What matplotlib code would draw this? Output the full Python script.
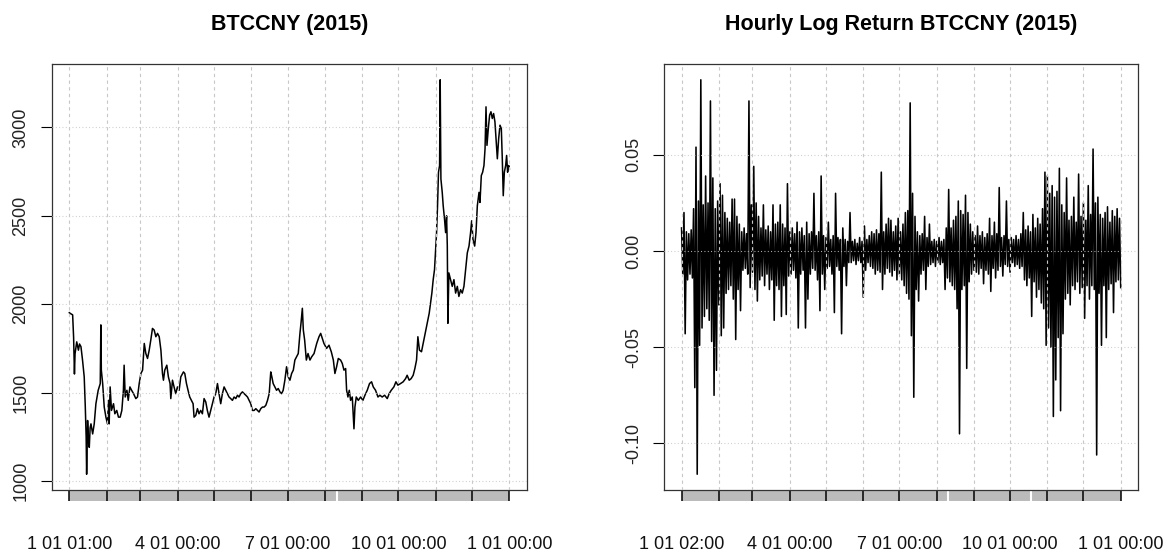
import numpy as np
import matplotlib
matplotlib.use("Agg")
import matplotlib.pyplot as plt
from matplotlib.transforms import blended_transform_factory

plt.rcParams["font.family"] = ["Liberation Sans", "DejaVu Sans"]

# time axis in days since 2015-01-01 00:00
month_starts = [0, 31, 59, 90, 120, 151, 181, 212, 243, 273, 304, 334, 365]
price_labels = ["1 01 01:00", "4 01 00:00", "7 01 00:00", "10 01 00:00", "1 01 00:00"]
return_labels = ["1 01 02:00", "4 01 00:00", "7 01 00:00", "10 01 00:00", "1 01 00:00"]
label_months = [90, 181, 273, 365]

# BTCCNY price path
price_day = [
    0.04, 1.5, 2.8, 3.6, 4.3, 4.8, 6.2, 7.6, 8.5, 9.7, 11.0, 12.4, 13.3, 14.0, 14.4,
    15.2, 16.0, 16.6, 17.3, 18.0, 19.4, 20.7, 22.1, 24.0, 25.7, 26.2, 26.6, 27.7, 29.0,
    30.4, 31.7, 32.5, 33.1, 33.9, 35.0, 36.7, 37.8, 39.4, 40.8, 42.2, 43.6, 44.9, 45.5,
    46.4, 47.8, 48.9, 50.3, 51.7, 53.3, 55.2, 56.6, 58.0, 59.4, 60.8, 62.2, 63.5, 64.9,
    66.3, 67.6, 69.0, 70.4, 71.8, 73.2, 74.6, 76.0, 77.3, 78.1, 79.2, 80.9, 82.2, 83.6,
    84.2, 85.6, 86.9, 88.3, 89.7, 91.1, 92.5, 94.7, 95.8, 97.2, 98.5, 99.9, 101.3, 102.7,
    103.5, 104.9, 106.3, 107.6, 109.0, 110.4, 111.8, 113.2, 114.5, 115.9, 117.3, 118.7,
    120.1, 121.5, 122.9, 124.2, 125.6, 127.0, 128.4, 129.8, 131.2, 132.5, 133.9, 135.3,
    136.7, 138.1, 139.5, 140.8, 142.2, 143.6, 145.0, 146.4, 147.8, 149.2, 150.5, 151.9,
    153.3, 154.7, 156.1, 157.4, 158.8, 160.2, 161.6, 163.0, 164.4, 165.8, 167.1, 168.0,
    169.1, 170.5, 171.9, 173.3, 174.7, 176.1, 177.4, 178.8, 180.2, 181.6, 183.0, 184.4,
    185.8, 187.1, 188.5, 189.9, 191.3, 192.3, 193.3, 194.1, 195.2, 196.6, 198.0, 199.6,
    201.0, 203.0, 205.2, 207.1, 208.5, 209.9, 211.2, 213.4, 215.4, 217.3, 219.0, 220.3,
    221.7, 223.1, 225.0, 226.4, 227.8, 229.2, 230.0, 231.1, 232.2, 233.3, 234.7, 236.1,
    236.9, 238.0, 239.7, 241.6, 243.5, 245.2, 247.1, 249.0, 250.7, 252.1, 254.0, 256.0,
    257.6, 259.5, 261.5, 263.7, 265.3, 267.0, 269.2, 270.9, 272.5, 274.7, 276.9, 278.9,
    280.2, 281.9, 283.5, 285.2, 286.6, 288.0, 289.1, 290.4, 292.1, 293.5, 295.2, 296.3,
    297.4, 298.5, 299.6, 300.7, 301.8, 302.9, 303.7, 304.6, 305.4, 306.2, 307.1, 307.6,
    308.2, 309.3, 310.1, 311.2, 312.1, 312.9, 313.5, 314.0, 314.8, 316.2, 317.6, 319.0,
    320.4, 321.8, 323.1, 324.5, 325.9, 327.3, 328.7, 330.1, 331.5, 332.8, 333.7, 334.8,
    336.2, 337.3, 338.4, 339.8, 340.6, 341.7, 342.8, 343.9, 344.8, 345.6, 346.4, 347.5,
    348.6, 349.7, 350.8, 351.9, 353.0, 354.1, 355.0, 356.1, 357.2, 358.3, 359.1, 359.9,
    360.8, 361.9, 362.7, 363.5, 364.4, 365.0,
]
price_cny = [
    1952, 1945, 1940, 1813, 1605, 1720, 1787, 1740, 1775, 1760, 1684, 1589, 1418, 1250, 1038,
    1342, 1220, 1190, 1300, 1323, 1266, 1323, 1437, 1513, 1551, 1883, 1627, 1551, 1418,
    1361, 1323, 1456, 1323, 1532, 1399, 1437, 1380, 1399, 1361, 1361, 1399, 1513, 1655,
    1475, 1513, 1456, 1532, 1513, 1494, 1466, 1475, 1551, 1608, 1627, 1778, 1721, 1693,
    1740, 1797, 1863, 1854, 1816, 1835, 1816, 1740, 1608, 1570, 1627, 1655, 1589, 1551,
    1466, 1570, 1532, 1494, 1532, 1513, 1589, 1617, 1608, 1551, 1513, 1475, 1456, 1437,
    1361, 1371, 1409, 1380, 1399, 1380, 1466, 1447, 1399, 1361, 1399, 1437,
    1475, 1494, 1551, 1494, 1437, 1494, 1532, 1513, 1494, 1475, 1466, 1456,
    1475, 1466, 1485, 1475, 1494, 1504, 1494, 1485, 1475, 1456, 1437, 1399,
    1399, 1409, 1399, 1390, 1409, 1418, 1418, 1428, 1456, 1494, 1617, 1589,
    1551, 1532, 1513, 1523, 1504, 1494, 1513, 1570, 1646, 1589, 1570, 1608,
    1627, 1684, 1702, 1721, 1835, 1901, 1977, 1854, 1797, 1684, 1721, 1684,
    1702, 1721, 1778, 1816, 1835, 1806, 1778, 1750, 1768, 1731, 1684, 1608,
    1646, 1693, 1684, 1665, 1627, 1636, 1513, 1475, 1513, 1456, 1475, 1295,
    1418, 1475, 1456, 1475, 1456, 1485, 1513, 1551, 1561, 1532, 1513, 1475,
    1485, 1475, 1485, 1466, 1494, 1513, 1532, 1561, 1542, 1551, 1561, 1579,
    1598, 1570, 1579, 1598, 1636, 1684, 1816, 1740, 1731, 1778, 1835, 1873,
    1911, 1949, 2006, 2063, 2139, 2196, 2291, 2405, 2557, 2747, 2785, 3270,
    2709, 2633, 2557, 2481, 2405, 2500, 2329, 1892, 2177, 2139, 2101, 2139,
    2063, 2101, 2044, 2082, 2063, 2101, 2196, 2291, 2329, 2405, 2472, 2367,
    2329, 2405, 2557, 2633, 2576, 2728, 2747, 2785, 2880, 3117, 2899, 2994,
    3070, 3089, 3051, 3079, 3032, 2918, 2823, 2937, 3013, 2994, 2823, 2614,
    2747, 2785, 2842, 2747, 2785, 2766,
]

# hourly log return: highest and lowest value in each 2-day window
ret_high = [
    0.012, 0.020, 0.010, 0.009, 0.011, 0.022, 0.054, 0.026, 0.089, 0.024,
    0.039, 0.025, 0.078, 0.038, 0.022, 0.026, 0.035, 0.029, 0.020, 0.017,
    0.015, 0.027, 0.027, 0.018, 0.014, 0.010, 0.012, 0.009, 0.078, 0.024,
    0.044, 0.025, 0.018, 0.012, 0.024, 0.011, 0.013, 0.010, 0.024, 0.014,
    0.015, 0.024, 0.014, 0.012, 0.035, 0.010, 0.012, 0.009, 0.015, 0.010,
    0.012, 0.008, 0.015, 0.009, 0.010, 0.030, 0.008, 0.010, 0.039, 0.008,
    0.007, 0.015, 0.006, 0.008, 0.030, 0.007, 0.006, 0.012, 0.006, 0.005,
    0.020, 0.005, 0.006, 0.004, 0.007, 0.005, 0.013, 0.006, 0.008, 0.010,
    0.009, 0.011, 0.009, 0.041, 0.010, 0.014, 0.017, 0.016, 0.010, 0.013,
    0.017, 0.010, 0.014, 0.020, 0.021, 0.077, 0.030, 0.018, 0.010, 0.008,
    0.009, 0.018, 0.007, 0.014, 0.005, 0.006, 0.005, 0.007, 0.005, 0.006,
    0.012, 0.032, 0.012, 0.016, 0.018, 0.026, 0.021, 0.019, 0.029, 0.020,
    0.014, 0.010, 0.008, 0.013, 0.008, 0.010, 0.007, 0.009, 0.017, 0.008,
    0.015, 0.009, 0.033, 0.007, 0.008, 0.026, 0.006, 0.007, 0.006, 0.008,
    0.006, 0.009, 0.020, 0.011, 0.013, 0.010, 0.019, 0.012, 0.017, 0.014,
    0.022, 0.041, 0.039, 0.030, 0.034, 0.028, 0.031, 0.043, 0.024, 0.020,
    0.038, 0.016, 0.018, 0.028, 0.015, 0.040, 0.018, 0.025, 0.016, 0.034,
    0.019, 0.053, 0.025, 0.028, 0.019, 0.017, 0.020, 0.023, 0.015, 0.021,
    0.018, 0.022, 0.017,
]
ret_low = [
    -0.012, -0.043, -0.015, -0.012, -0.014, -0.071, -0.116, -0.049, -0.040, -0.034,
    -0.030, -0.036, -0.047, -0.075, -0.062, -0.028, -0.044, -0.040, -0.022, -0.020,
    -0.018, -0.025, -0.046, -0.020, -0.031, -0.010, -0.009, -0.012, -0.019, -0.011,
    -0.020, -0.026, -0.015, -0.013, -0.018, -0.012, -0.020, -0.015, -0.036, -0.018,
    -0.020, -0.034, -0.018, -0.033, -0.013, -0.012, -0.010, -0.014, -0.040, -0.012,
    -0.010, -0.040, -0.025, -0.012, -0.009, -0.010, -0.015, -0.031, -0.012, -0.020,
    -0.009, -0.008, -0.012, -0.032, -0.008, -0.010, -0.043, -0.008, -0.018, -0.006,
    -0.006, -0.005, -0.007, -0.005, -0.006, -0.024, -0.010, -0.006, -0.008, -0.009,
    -0.012, -0.010, -0.011, -0.020, -0.012, -0.009, -0.011, -0.013, -0.010, -0.015,
    -0.012, -0.015, -0.018, -0.022, -0.025, -0.044, -0.076, -0.020, -0.026, -0.012,
    -0.010, -0.020, -0.008, -0.007, -0.006, -0.008, -0.006, -0.007, -0.006, -0.020,
    -0.014, -0.016, -0.018, -0.020, -0.030, -0.095, -0.020, -0.018, -0.061, -0.016,
    -0.012, -0.010, -0.011, -0.012, -0.009, -0.017, -0.010, -0.012, -0.021, -0.009,
    -0.014, -0.010, -0.008, -0.013, -0.007, -0.008, -0.011, -0.006, -0.008, -0.007,
    -0.009, -0.008, -0.015, -0.018, -0.014, -0.034, -0.016, -0.024, -0.020, -0.027,
    -0.030, -0.049, -0.040, -0.050, -0.086, -0.067, -0.045, -0.083, -0.043, -0.025,
    -0.022, -0.028, -0.018, -0.020, -0.016, -0.022, -0.019, -0.035, -0.018, -0.025,
    -0.018, -0.020, -0.106, -0.022, -0.049, -0.018, -0.045, -0.020, -0.017, -0.032,
    -0.016, -0.015, -0.019,
]
price_gaps = [221.7]
return_gaps = [221.6, 290.8]

GRID = "#c8c8c8"


def xts_panel(ax, x, y, yticks, ytick_labels, xlabels, gaps, title, lw):
    ax.plot(x, y, color="black", lw=lw, zorder=2)

    x0, x1 = x[0], x[-1]
    y0, y1 = min(y), max(y)
    ax.set_xlim(x0 - 0.04 * (x1 - x0), x1 + 0.04 * (x1 - x0))
    ax.set_ylim(y0 - 0.04 * (y1 - y0), y1 + 0.04 * (y1 - y0))

    # grid on top of the series, like the base graphics version
    grid_x = [x0] + month_starts[1:]
    for gx in grid_x:
        ax.axvline(gx, color=GRID, lw=0.8, dashes=(3, 3), zorder=3)
    for gy in yticks:
        ax.axhline(gy, color=GRID, lw=0.8, dashes=(0.8, 2.2), zorder=3)

    for s in ax.spines.values():
        s.set_color("#333333")
        s.set_linewidth(0.9)

    ax.set_yticks(yticks)
    ax.set_yticklabels(ytick_labels, rotation=90, va="center", color="#222222")
    ax.tick_params(axis="y", length=8, width=0.8, pad=8, labelsize=13)

    ax.set_xticks([x0] + label_months)
    ax.set_xticklabels(xlabels, color="#111111")
    ax.tick_params(axis="x", length=0, pad=33, labelsize=13)

    # grey band of observation ticks under the box, black marks at each month
    tr = blended_transform_factory(ax.transData, ax.transAxes)
    band = -11 / 426
    ax.add_patch(plt.Rectangle((x0, band), x1 - x0, -band, transform=tr,
                               facecolor="#bbbbbb", edgecolor="none", clip_on=False))
    ax.vlines(gaps, band, 0, transform=tr, color="white", lw=1.5, clip_on=False)
    ax.vlines(grid_x, band, 0, transform=tr, color="black", lw=1.1, clip_on=False)

    ax.text(0.5, 1 + 40 / 426, title, transform=ax.transAxes, ha="center",
            va="center", fontsize=15.5, fontweight="bold")


fig = plt.figure(figsize=(11.73, 5.58), dpi=100)
ax1 = fig.add_axes([0.04408, 0.12186, 0.40520, 0.76344])
ax2 = fig.add_axes([0.56607, 0.12186, 0.40435, 0.76344])

xts_panel(ax1, np.array(price_day), price_cny,
          [1000, 1500, 2000, 2500, 3000],
          ["1000", "1500", "2000", "2500", "3000"],
          price_labels, price_gaps, "BTCCNY (2015)", lw=1.1)

ret = np.empty(len(ret_high) + len(ret_low))
ret[0::2] = ret_high
ret[1::2] = ret_low
ret_day = np.linspace(2 / 24, 365, len(ret))
xts_panel(ax2, ret_day, ret,
          [-0.10, -0.05, 0.00, 0.05],
          ["-0.10", "-0.05", "0.00", "0.05"],
          return_labels, return_gaps, "Hourly Log Return BTCCNY (2015)", lw=1.15)

fig.savefig("out.png", dpi=100)
